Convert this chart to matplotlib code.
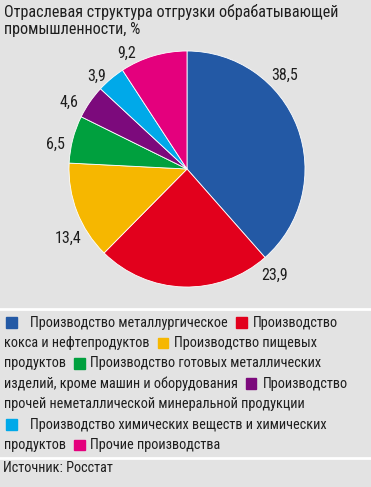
import matplotlib
matplotlib.use("Agg")
import numpy as np
import matplotlib.pyplot as plt
from matplotlib.patches import Rectangle
from matplotlib.lines import Line2D

plt.rcParams['font.family'] = ['Roboto Condensed', 'DejaVu Sans']

# data
categories = [
    "Производство металлургическое",
    "Производство кокса и нефтепродуктов",
    "Производство пищевых продуктов",
    "Производство готовых металлических изделий, кроме машин и оборудования",
    "Производство прочей неметаллической минеральной продукции",
    "Производство химических веществ и химических продуктов",
    "Прочие производства",
]
shares = [38.5, 23.9, 13.4, 6.5, 4.6, 3.9, 9.2]
colors = ["#2359a5", "#e2001c", "#f6b700", "#00a03e", "#7c0a7c", "#00a9e9", "#e4007d"]
value_labels = [f"{v:.1f}".replace(".", ",") for v in shares]

title = "Отраслевая структура отгрузки обрабатывающей\nпромышленности, %"
source = "Источник: Росстат"

# legend lines as broken in the reference: (color index or None, text)
legend_lines = [
    [(0, "Производство металлургическое"), (1, "Производство")],
    [(None, "кокса и нефтепродуктов"), (2, "Производство пищевых")],
    [(None, "продуктов"), (3, "Производство готовых металлических")],
    [(None, "изделий, кроме машин и оборудования"), (4, "Производство")],
    [(None, "прочей неметаллической минеральной продукции")],
    [(5, "Производство химических веществ и химических")],
    [(None, "продуктов"), (6, "Прочие производства")],
]

W, H = 371, 487
bg = "#e3e3e3"
txt_color = "#1e1e1e"
fig = plt.figure(figsize=(W / 100, H / 100), dpi=100, facecolor=bg)

fig.text(4 / W, 1 - 4 / H, title, ha="left", va="top", fontsize=11.6,
         color=txt_color, linespacing=1.2)

# pie
cx, cy, r = 187, 169, 118
ax = fig.add_axes([(cx - r) / W, 1 - (cy + r) / H, 2 * r / W, 2 * r / H])
ax.set_facecolor(bg)
wedges, _ = ax.pie(shares, colors=colors, startangle=90, counterclock=False,
                   wedgeprops=dict(linewidth=0.6, edgecolor="white"))
ax.set_xlim(-1, 1)
ax.set_ylim(-1, 1)
ax.set_aspect("equal")
ax.axis("off")

# value labels: shifted from wedge middles as in the reference
angle_shift = [23, 41, 9, 4, 5, 4, 11]
label_dist = [1.15, 1.17, 1.17, 1.13, 1.15, 1.10, 1.11]
for w, lab, sh, d in zip(wedges, value_labels, angle_shift, label_dist):
    a = np.deg2rad((w.theta1 + w.theta2) / 2 + sh)
    ax.text(d * np.cos(a), d * np.sin(a), lab, ha="center", va="center",
            fontsize=11.5, color=txt_color, clip_on=False)

# separators
for yy in [309, 458]:
    fig.add_artist(Line2D([0, 1], [1 - yy / H, 1 - yy / H], color="white",
                          linewidth=2, transform=fig.transFigure))

# legend drawn as flowing text
fig.canvas.draw()
renderer = fig.canvas.get_renderer()
fs = 10.3
sq = 10.5
y0 = 322.5
step = 20.4
for i, line in enumerate(legend_lines):
    y = y0 + i * step
    x = 4
    for ci, txt in line:
        if ci is not None:
            if x > 4:
                x += 8
                gap = 6
            else:
                x = 6
                gap = 14
            fig.add_artist(Rectangle((x / W, 1 - (y + sq / 2) / H), sq / W, sq / H,
                                     color=colors[ci], transform=fig.transFigure))
            x += sq + gap
        t = fig.text(x / W, 1 - y / H, txt, ha="left", va="center", fontsize=fs,
                     color=txt_color)
        x += t.get_window_extent(renderer).width

fig.text(3 / W, 1 - 468 / H, source, ha="left", va="center", fontsize=10.3,
         color=txt_color)

fig.savefig("out.png", dpi=100, facecolor=bg)
